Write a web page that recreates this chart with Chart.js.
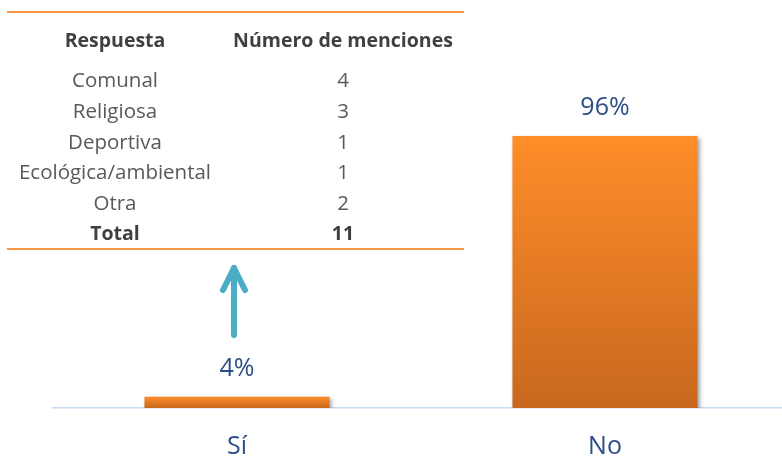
<!DOCTYPE html>
<html>
<head>
<meta charset="utf-8">
<script src="https://cdn.jsdelivr.net/npm/chart.js@4"></script>
<style>
  body { margin: 0; overflow: hidden; background: #fff; font-family: "Open Sans", sans-serif; }
  .wrap { position: relative; width: 790px; height: 459px; }
  .tbl { position: absolute; left: 7px; top: 11px; width: 457px; height: 235px;
         border-top: 2px solid #F79646; border-bottom: 2px solid #F79646; }
  .row { position: absolute; left: 0; width: 100%; height: 30px; line-height: 30px; font-size: 20.5px; color: #595959; }
  .row div { position: absolute; top: 0; width: 220px; text-align: center; white-space: nowrap; }
  .row .c1 { left: -2px; }
  .row .c2 { left: 226px; }
  .row.bold { font-weight: bold; color: #404040; font-size: 19.5px; }
</style>
</head>
<body>
<div class="wrap">
  <canvas id="chart" width="790" height="459"></canvas>
  <div class="tbl" id="tbl"></div>
</div>
<script>
// Bar data
const categories = ['Sí', 'No']
const percentages = [4, 96]

// Table data
const tableHeader = ['Respuesta', 'Número de menciones']
const respuestas = ['Comunal', 'Religiosa', 'Deportiva', 'Ecológica/ambiental', 'Otra']
const menciones = [4, 3, 1, 1, 2]
const totalLabel = 'Total'
const totalMenciones = 11

// Table
const tbl = document.querySelector('#tbl')
const addRow = (a, b, top, bold) => {
    const row = document.createElement('div')
    row.className = 'row' + (bold ? ' bold' : '')
    row.style.top = top + 'px'
    row.innerHTML = `<div class="c1">${a}</div><div class="c2">${b}</div>`
    tbl.appendChild(row)
}
addRow(tableHeader[0], tableHeader[1], 12, true)
respuestas.forEach((r, i) => addRow(r, menciones[i], 51 + i * 30.8, false))
addRow(totalLabel, totalMenciones, 205, true)

const textBlue = '#2B4F86'

const barStyle = {
    id: 'barStyle',
    beforeDatasetsDraw(chart) {
        const ctx = chart.ctx
        ctx.save()
        ctx.shadowColor = 'rgba(0,0,0,0.35)'
        ctx.shadowBlur = 4
        ctx.shadowOffsetX = 2
        ctx.shadowOffsetY = 2
    },
    afterDatasetsDraw(chart) {
        const ctx = chart.ctx
        ctx.restore()

        // value labels
        const meta = chart.getDatasetMeta(0)
        ctx.save()
        ctx.font = '25px "Open Sans"'
        ctx.fillStyle = textBlue
        ctx.textAlign = 'center'
        ctx.textBaseline = 'middle'
        meta.data.forEach((bar, i) => {
            ctx.fillText(percentages[i] + '%', bar.x, bar.y - 28)
        })

        // arrow above the small bar
        const x = meta.data[0].x - 3
        const y0 = chart.scales.y.getPixelForValue(0)
        ctx.strokeStyle = '#4BACC6'
        ctx.lineWidth = 6
        ctx.lineCap = 'round'
        ctx.lineJoin = 'round'
        ctx.beginPath()
        ctx.moveTo(x, y0 - 73)
        ctx.lineTo(x, y0 - 140)
        ctx.stroke()
        ctx.beginPath()
        ctx.moveTo(x - 11, y0 - 118)
        ctx.lineTo(x, y0 - 140)
        ctx.lineTo(x + 11, y0 - 118)
        ctx.stroke()
        ctx.restore()
    }
}

const barGradient = (context) => {
    const chart = context.chart
    const { chartArea, scales } = chart
    if (!chartArea) return '#F58A2A'
    const top = scales.y.getPixelForValue(context.raw)
    const bottom = scales.y.getPixelForValue(0)
    const gradient = chart.ctx.createLinearGradient(0, top, 0, bottom)
    gradient.addColorStop(0, '#FF8D29')
    gradient.addColorStop(1, '#C8681F')
    return gradient
}

new Chart(document.getElementById('chart'), {
    type: 'bar',
    data: {
        labels: categories,
        datasets: [{
            data: percentages,
            backgroundColor: barGradient,
            borderWidth: 0,
            categoryPercentage: 1,
            barPercentage: 0.503
        }]
    },
    options: {
        responsive: false,
        animation: false,
        layout: { padding: { left: 53, right: 1, top: 124.6, bottom: -27 } },
        plugins: { legend: { display: false }, tooltip: { enabled: false } },
        scales: {
            x: {
                grid: { display: false, drawTicks: false },
                border: { display: true, color: '#C9DAF0', width: 1.5 },
                ticks: { color: textBlue, font: { family: 'Open Sans', size: 25 }, padding: 24 }
            },
            y: {
                display: false,
                min: 0,
                max: 100
            }
        }
    },
    plugins: [barStyle]
})
</script>
</body>
</html>
